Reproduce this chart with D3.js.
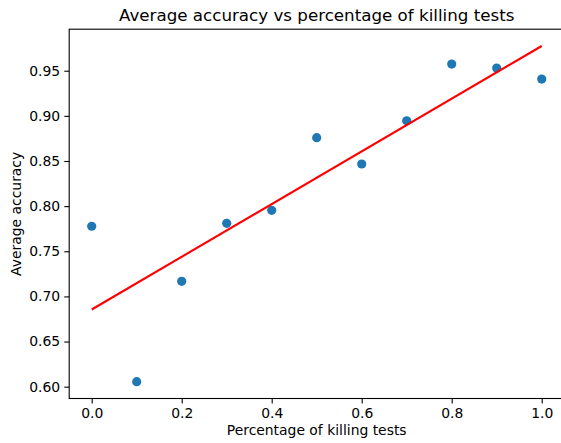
<!DOCTYPE html>
<html>
<meta charset="utf-8">
<head>
    <script src="https://d3js.org/d3.v7.min.js"></script>
    <style>
        body { margin: 0; background: #fff; }
        text { font-family: "DejaVu Sans", sans-serif; fill: #000; }
    </style>
</head>
<body>
    <div id="chart"></div>
</body>
<script>
    // data
    const pct = [0.0, 0.1, 0.2, 0.3, 0.4, 0.5, 0.6, 0.7, 0.8, 0.9, 1.0];
    const accuracy = [0.7777, 0.6055, 0.7167, 0.7810, 0.7954, 0.8758, 0.8467, 0.8946, 0.9574, 0.9530, 0.9408];
    // fitted line endpoints
    const fitX = [0.0, 1.0];
    const fitY = [0.6855, 0.9774];
    const xTicks = [0.0, 0.2, 0.4, 0.6, 0.8, 1.0];
    const yTicks = [0.60, 0.65, 0.70, 0.75, 0.80, 0.85, 0.90, 0.95];

    const W = 561, H = 443;
    const m = { left: 69.2, right: 564.2, top: 29.2, bottom: 398.5 };

    const svg = d3.select("#chart")
        .append("svg")
            .attr("width", W)
            .attr("height", H);

    const x = d3.scaleLinear().domain([-0.05, 1.05]).range([m.left, m.right]);
    const y = d3.scaleLinear().domain([0.5869, 0.996]).range([m.bottom, m.top]);

    // X axis
    const xAxis = svg.append("g")
        .attr("transform", `translate(0,${m.bottom})`)
        .call(d3.axisBottom(x).tickValues(xTicks).tickFormat(d3.format(".1f"))
            .tickSize(4.9).tickPadding(4.5).tickSizeOuter(0));
    xAxis.selectAll("text").style("font-size", "13.9px");

    // Y axis
    const yAxis = svg.append("g")
        .attr("transform", `translate(${m.left},0)`)
        .call(d3.axisLeft(y).tickValues(yTicks).tickFormat(d3.format(".2f"))
            .tickSize(4.9).tickPadding(4.2).tickSizeOuter(0));
    yAxis.selectAll("text").style("font-size", "13.9px");

    svg.selectAll(".domain").remove();
    svg.selectAll(".tick line").attr("stroke", "#000").attr("stroke-width", 1.1);

    // spines
    svg.append("rect")
        .attr("x", m.left).attr("y", m.top)
        .attr("width", m.right - m.left).attr("height", m.bottom - m.top)
        .attr("fill", "none").attr("stroke", "#000").attr("stroke-width", 1.1);

    // scatter
    svg.selectAll("circle.pt")
        .data(pct)
        .join("circle")
            .attr("class", "pt")
            .attr("cx", d => x(d))
            .attr("cy", (d, i) => y(accuracy[i]))
            .attr("r", 4.6)
            .attr("fill", "#1f77b4");

    // fit line
    svg.append("path")
        .datum(fitX.map((d, i) => [d, fitY[i]]))
        .attr("d", d3.line().x(d => x(d[0])).y(d => y(d[1])))
        .attr("fill", "none")
        .attr("stroke", "red")
        .attr("stroke-width", 2.1);

    // labels
    svg.append("text")
        .attr("x", (m.left + m.right) / 2).attr("y", 21)
        .attr("text-anchor", "middle")
        .style("font-size", "16.7px")
        .text("Average accuracy vs percentage of killing tests");

    svg.append("text")
        .attr("x", (m.left + m.right) / 2).attr("y", 435)
        .attr("text-anchor", "middle")
        .style("font-size", "13.9px")
        .text("Percentage of killing tests");

    svg.append("text")
        .attr("transform", `translate(21,${(m.top + m.bottom) / 2})rotate(-90)`)
        .attr("text-anchor", "middle")
        .style("font-size", "13.9px")
        .text("Average accuracy");
</script>
</html>
